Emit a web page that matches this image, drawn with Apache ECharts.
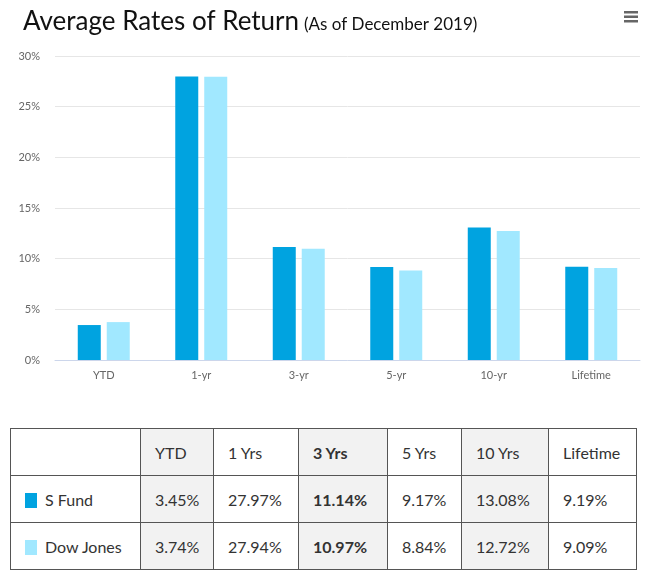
<!DOCTYPE html>
<html><head><meta charset="utf-8">
<script src="https://cdn.jsdelivr.net/npm/echarts@6/dist/echarts.min.js"></script>
<style>
html,body{margin:0;padding:0;background:#fff;width:646px;height:580px;overflow:hidden;font-family:"Lato","Noto Sans",sans-serif;}
#chart{position:absolute;left:0;top:0;width:646px;height:400px;}
#tbl{position:absolute;left:10px;top:428px;border-collapse:collapse;font-family:"Lato","Noto Sans",sans-serif;font-size:16px;color:#333;}
#tbl td{border:1px solid #555;height:47px;padding:0 0 0 14px;box-sizing:border-box;}
#tbl td.sh{background:#f2f2f2;}
#tbl td.b{font-weight:bold;}
.sw{display:inline-block;width:12px;height:15px;vertical-align:-2px;margin-right:8px;}
</style></head><body>
<div id="chart"></div>
<table id="tbl"></table>
<script>
const categories = ['YTD','1-yr','3-yr','5-yr','10-yr','Lifetime'];
const tableHeaders = ['YTD','1 Yrs','3 Yrs','5 Yrs','10 Yrs','Lifetime'];
const seriesNames = ['S Fund','Dow Jones'];
const sFund = [3.45, 27.97, 11.14, 9.17, 13.08, 9.19];
const dowJones = [3.74, 27.94, 10.97, 8.84, 12.72, 9.09];
const colors = ['#00a3e0','#a1e8ff'];
const yTicks = [0,5,10,15,20,25,30];

const chart = echarts.init(document.getElementById('chart'));
chart.setOption({
  animation:false,
  title:{
    left:18, top:4,
    text:'{a|Average Rates of Return} {b|(As of December 2019)}',
    textStyle:{fontWeight:'normal',rich:{
      a:{fontSize:26,fontFamily:'Lato',fontWeight:'normal',color:'#111',verticalAlign:'bottom'},
      b:{fontSize:17,fontFamily:'Lato',fontWeight:'normal',color:'#111',verticalAlign:'bottom',padding:[0,0,2,0]}
    }}
  },
  graphic:[
    {type:'rect',left:624,top:11,shape:{width:14,height:2.5},style:{fill:'#666'}},
    {type:'rect',left:624,top:15.5,shape:{width:14,height:2.5},style:{fill:'#666'}},
    {type:'rect',left:624,top:20,shape:{width:14,height:2.5},style:{fill:'#666'}}
  ],
  grid:{left:55,right:6,top:56,bottom:40},
  xAxis:{type:'category',data:categories,
    axisLine:{lineStyle:{color:'#ccd6eb'}},axisTick:{show:false},
    axisLabel:{color:'#666',fontSize:11,fontFamily:'Lato',margin:10}},
  yAxis:{type:'value',min:yTicks[0],max:yTicks[yTicks.length-1],interval:5,
    axisLabel:{formatter:'{value}%',color:'#666',fontSize:11,fontFamily:'Lato',margin:15},
    splitLine:{lineStyle:{color:'#e6e6e6'}},axisLine:{show:false},axisTick:{show:false}},
  series:[
    {name:seriesNames[0],type:'bar',data:sFund,barWidth:23,barGap:'26%',itemStyle:{color:colors[0]}},
    {name:seriesNames[1],type:'bar',data:dowJones,barWidth:23,barGap:'26%',itemStyle:{color:colors[1]}}
  ]
});

const widths=[130,73,85,89,74,87,88];
const shaded=[1,3,5], bold=[3];
const tbl=document.getElementById('tbl');
function row(cells){
  const tr=document.createElement('tr');
  cells.forEach((c,i)=>{
    const td=document.createElement('td');
    td.innerHTML=c; td.style.width=widths[i]+'px';
    if(shaded.includes(i)) td.className='sh';
    if(bold.includes(i)) td.className+=' b';
    tr.appendChild(td);
  });
  tbl.appendChild(tr);
}
const fmt=v=>v.toFixed(2)+'%';
row([''].concat(tableHeaders));
[sFund,dowJones].forEach((d,k)=>{
  row(['<span class="sw" style="background:'+colors[k]+'"></span>'+seriesNames[k]].concat(d.map(fmt)));
});
</script>
</body></html>
